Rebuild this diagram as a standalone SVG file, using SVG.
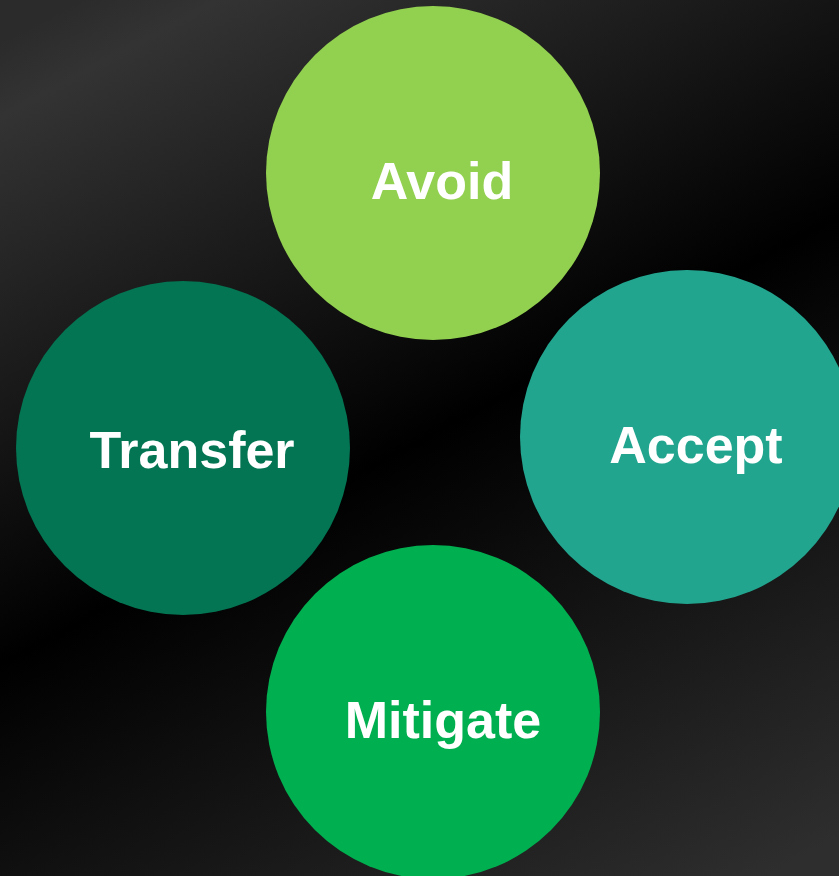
<svg xmlns="http://www.w3.org/2000/svg" width="839" height="876" viewBox="0 0 839 876">
  <defs>
    <linearGradient id="bg" x1="161" y1="-44" x2="679" y2="924" gradientUnits="userSpaceOnUse">
      <stop offset="0" stop-color="#2b2b2b"/>
      <stop offset="0.06" stop-color="#333333"/>
      <stop offset="0.5" stop-color="#000000"/>
      <stop offset="1" stop-color="#2e2e2e"/>
    </linearGradient>
  </defs>
  <style>
    .lbl { font-family: "Liberation Sans", Arial, sans-serif; font-weight: bold; font-size: 52px; fill: #ffffff; text-anchor: middle; }
  </style>
  <rect x="0" y="0" width="839" height="876" fill="url(#bg)"/>
  <g id="connectors"/>
  <g id="avoid">
    <circle cx="433" cy="173" r="167" fill="#92D050"/>
    <text class="lbl" x="442" y="199">Avoid</text>
  </g>
  <g id="transfer">
    <circle cx="183" cy="448" r="167" fill="#037552"/>
    <text class="lbl" x="192" y="468">Transfer</text>
  </g>
  <g id="accept">
    <circle cx="687" cy="437" r="167" fill="#22A58F"/>
    <text class="lbl" x="696" y="463">Accept</text>
  </g>
  <g id="mitigate">
    <circle cx="433" cy="712" r="167" fill="#00B050"/>
    <text class="lbl" x="443" y="738">Mitigate</text>
  </g>
</svg>
